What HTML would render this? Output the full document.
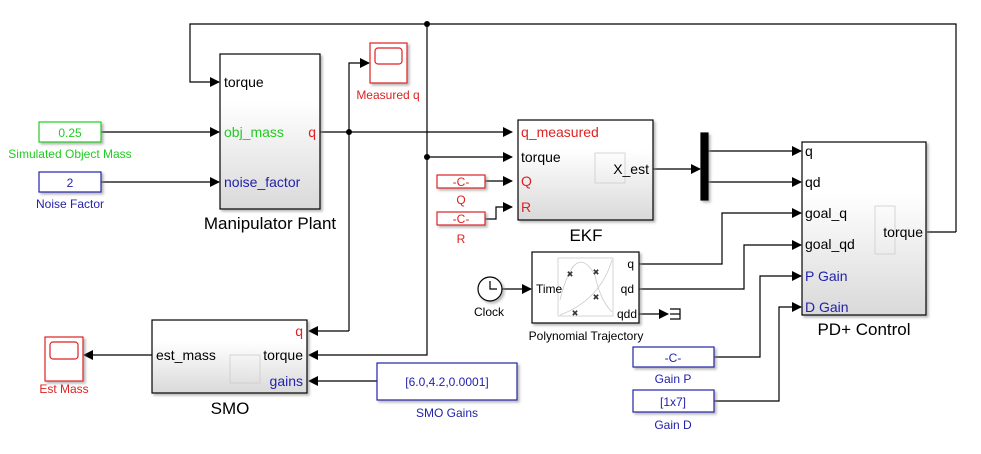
<!DOCTYPE html>
<html><head><meta charset="utf-8"><style>
html,body{margin:0;padding:0;background:#fff;}
svg{display:block;font-family:"Liberation Sans",sans-serif;}
</style></head><body>
<svg width="981" height="454" viewBox="0 0 981 454" xmlns="http://www.w3.org/2000/svg">
<defs>
<marker id="a" markerWidth="10" markerHeight="10" refX="9" refY="5" orient="auto" markerUnits="userSpaceOnUse"><path d="M0,0 L10,5 L0,10 z" fill="#000"/></marker>
<linearGradient id="g" x1="0" y1="0" x2="0" y2="1"><stop offset="0.3" stop-color="#fff"/><stop offset="1" stop-color="#d9d9d9"/></linearGradient>
<filter id="s" x="-10%" y="-10%" width="130%" height="130%"><feDropShadow dx="2" dy="2" stdDeviation="1.2" flood-color="#888" flood-opacity="0.6"/></filter>
</defs>
<g fill="none" stroke="#000" stroke-width="1.2">
<polyline points="956,232 956,24 190,24 190,82 219,82" marker-end="url(#a)"/>
<polyline points="927,232 956,232"/>
<line x1="101" y1="132" x2="219" y2="132" marker-end="url(#a)"/>
<line x1="101" y1="182" x2="219" y2="182" marker-end="url(#a)"/>
<line x1="320" y1="132" x2="512" y2="132" marker-end="url(#a)"/>
<polyline points="349,331 349,63 369,63" marker-end="url(#a)"/>
<polyline points="349,331 309,331" marker-end="url(#a)"/>
<polyline points="427,24 427,355 309,355" marker-end="url(#a)"/>
<line x1="427" y1="157" x2="512" y2="157" marker-end="url(#a)"/>
<line x1="485" y1="181" x2="512" y2="181" marker-end="url(#a)"/>
<polyline points="485,219 496,219 496,207 512,207" marker-end="url(#a)"/>
<line x1="653" y1="169" x2="700" y2="169" marker-end="url(#a)"/>
<line x1="708" y1="151" x2="801" y2="151" marker-end="url(#a)"/>
<line x1="708" y1="182" x2="801" y2="182" marker-end="url(#a)"/>
<line x1="502" y1="289" x2="531" y2="289" marker-end="url(#a)"/>
<polyline points="639,264 722,264 722,213 801,213" marker-end="url(#a)"/>
<polyline points="639,289 744,289 744,245 801,245" marker-end="url(#a)"/>
<line x1="639" y1="314" x2="668" y2="314" marker-end="url(#a)"/>
<polyline points="670,309 680,309 680,319 670,319"/>
<line x1="670" y1="314" x2="680" y2="314"/>
<polyline points="714,357 760,357 760,276 801,276" marker-end="url(#a)"/>
<polyline points="714,401 779,401 779,307 801,307" marker-end="url(#a)"/>
<line x1="377" y1="381" x2="309" y2="381" marker-end="url(#a)"/>
<line x1="152" y1="355" x2="84" y2="355" marker-end="url(#a)"/>
</g>
<g fill="#000"><circle cx="427" cy="24" r="3"/><circle cx="349" cy="132" r="3"/><circle cx="427" cy="157" r="3"/></g>

<g stroke="#000" stroke-width="1.2" filter="url(#s)">
<rect x="220" y="54" width="100" height="155" fill="url(#g)"/>
<rect x="518" y="120" width="135" height="100" fill="url(#g)"/>
<rect x="802" y="142" width="124" height="173" fill="url(#g)"/>
<rect x="152" y="320" width="155" height="73" fill="url(#g)"/>
<rect x="532" y="252" width="107" height="71" fill="#fff"/>
<rect x="701" y="133" width="7" height="67" fill="#000"/>
<circle cx="490" cy="289" r="12" fill="#fff"/>
</g>
<g fill="none" stroke="#ccc" stroke-width="0.8">
<rect x="558" y="258" width="55" height="58"/>
<path d="M560,315 Q600,300 612,260"/><path d="M560,300 Q575,240 595,275 Q600,300 612,312"/>
<rect x="595" y="153" width="30" height="30"/><rect x="875" y="206" width="20" height="48"/>
<rect x="230" y="355" width="30" height="28"/>
</g>
<path d="M490,281 L490,289 L497,289" stroke="#000" fill="none" stroke-width="1.2"/>
<g stroke="#333" stroke-width="1" font-size="9">
<text x="570" y="277" text-anchor="middle">×</text><text x="596" y="275" text-anchor="middle">×</text>
<text x="596" y="300" text-anchor="middle">×</text><text x="575" y="316" text-anchor="middle">×</text>
</g>

<g stroke="#d22" fill="#fff" stroke-width="1.2" filter="url(#s)">
<rect x="370" y="43" width="37" height="40"/>
<rect x="45" y="337" width="38" height="44"/>
</g>
<g stroke="#d22" fill="none" stroke-width="1.2"><rect x="375" y="48" width="27" height="16" rx="3"/><rect x="50" y="342" width="28" height="17" rx="3"/></g>

<g stroke-width="1.2" fill="#fff" filter="url(#s)">
<rect x="39" y="122" width="62" height="20" stroke="#2c2"/>
<rect x="39" y="172" width="62" height="20" stroke="#22a"/>
<rect x="437" y="175" width="48" height="13" stroke="#d22"/>
<rect x="437" y="212" width="48" height="13" stroke="#d22"/>
<rect x="377" y="363" width="140" height="37" stroke="#22a"/>
<rect x="633" y="347" width="81" height="20" stroke="#22a"/>
<rect x="633" y="390" width="81" height="22" stroke="#22a"/>
</g>

<g font-size="12">
<text x="70" y="137" fill="#2c2" text-anchor="middle">0.25</text>
<text x="70" y="158" fill="#2c2" text-anchor="middle">Simulated Object Mass</text>
<text x="70" y="187" fill="#22a" text-anchor="middle">2</text>
<text x="70" y="208" fill="#22a" text-anchor="middle">Noise Factor</text>
<text x="388" y="99" fill="#d22" text-anchor="middle">Measured q</text>
<text x="461" y="186" fill="#d22" text-anchor="middle">-C-</text>
<text x="461" y="204" fill="#d22" text-anchor="middle">Q</text>
<text x="461" y="223" fill="#d22" text-anchor="middle">-C-</text>
<text x="461" y="243" fill="#d22" text-anchor="middle">R</text>
<text x="489" y="316" fill="#000" text-anchor="middle">Clock</text>
<text x="586" y="340" fill="#000" text-anchor="middle">Polynomial Trajectory</text>
<text x="447" y="386" fill="#22a" text-anchor="middle">[6.0,4.2,0.0001]</text>
<text x="447" y="417" fill="#22a" text-anchor="middle">SMO Gains</text>
<text x="673" y="362" fill="#22a" text-anchor="middle">-C-</text>
<text x="673" y="383" fill="#22a" text-anchor="middle">Gain P</text>
<text x="673" y="406" fill="#22a" text-anchor="middle">[1x7]</text>
<text x="673" y="429" fill="#22a" text-anchor="middle">Gain D</text>
<text x="64" y="393" fill="#d22" text-anchor="middle">Est Mass</text>
<text x="536" y="293">Time</text>
<text x="634" y="268" text-anchor="end">q</text>
<text x="634" y="293" text-anchor="end">qd</text>
<text x="637" y="318" text-anchor="end">qdd</text>
</g>

<g font-size="14">
<text x="224" y="87">torque</text>
<text x="224" y="137" fill="#2c2">obj_mass</text>
<text x="316" y="137" fill="#d22" text-anchor="end">q</text>
<text x="224" y="187" fill="#22a">noise_factor</text>
<text x="521" y="137" fill="#d22">q_measured</text>
<text x="521" y="162">torque</text>
<text x="521" y="186" fill="#d22">Q</text>
<text x="521" y="212" fill="#d22">R</text>
<text x="649" y="174" text-anchor="end">X_est</text>
<text x="805" y="156">q</text>
<text x="805" y="187">qd</text>
<text x="805" y="218">goal_q</text>
<text x="805" y="249">goal_qd</text>
<text x="805" y="281" fill="#22a">P Gain</text>
<text x="805" y="312" fill="#22a">D Gain</text>
<text x="923" y="237" text-anchor="end">torque</text>
<text x="303" y="336" fill="#d22" text-anchor="end">q</text>
<text x="303" y="360" text-anchor="end">torque</text>
<text x="303" y="386" fill="#22a" text-anchor="end">gains</text>
<text x="156" y="360">est_mass</text>
</g>
<g font-size="17">
<text x="270" y="229" text-anchor="middle">Manipulator Plant</text>
<text x="586" y="241" text-anchor="middle">EKF</text>
<text x="864" y="335" text-anchor="middle">PD+ Control</text>
<text x="230" y="414" text-anchor="middle">SMO</text>
</g>
</svg>
</body></html>
